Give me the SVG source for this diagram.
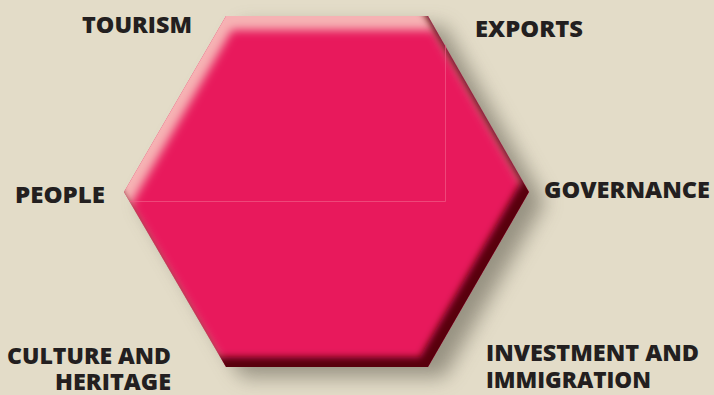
<svg xmlns="http://www.w3.org/2000/svg" width="714" height="395" viewBox="0 0 714 395">
<defs>
<style>
.lbl{font-family:"Open Sans","Liberation Sans",sans-serif;font-weight:800;font-size:22.5px;fill:#231f20}
</style>
<clipPath id="hexClip"><polygon points="226,16 428,16 529,192 428,367 226,367 124,192"/></clipPath>
<filter id="blur6" x="-20%" y="-20%" width="140%" height="140%"><feGaussianBlur stdDeviation="5"/></filter>
<filter id="blur3" x="-20%" y="-20%" width="140%" height="140%"><feGaussianBlur stdDeviation="3.5"/></filter>
<filter id="shadowBlur" x="-20%" y="-20%" width="140%" height="140%"><feGaussianBlur stdDeviation="10"/></filter>
</defs>
<rect width="714" height="395" fill="#e3dcc8"/>
<g id="hexagon">
<polygon points="226,16 428,16 529,192 428,367 226,367 124,192" transform="translate(16,10)" fill="#8a8576" opacity="0.85" filter="url(#shadowBlur)"/>
<polygon points="226,16 428,16 529,192 428,367 226,367 124,192" fill="#e8195c"/>
<g clip-path="url(#hexClip)">
<path fill-rule="evenodd" fill="#f6b2b4" filter="url(#blur6)" transform="translate(6,14)" d="M-100,-100H814V495H-100Z M226,16 L428,16 L529,192 L428,367 L226,367 L124,192Z"/>
<path fill-rule="evenodd" fill="#58000f" filter="url(#blur3)" transform="translate(-8,-10)" d="M-100,-100H814V495H-100Z M226,16 L428,16 L529,192 L428,367 L226,367 L124,192Z"/>
</g>
<path d="M130,201.5 H445.5 V45" fill="none" stroke="#f25a86" stroke-width="1" opacity="0.7"/>
</g>
<g id="labels">
<g id="tourism"><text class="lbl" x="82" y="33" textLength="110" lengthAdjust="spacingAndGlyphs">TOURISM</text></g>
<g id="exports"><text class="lbl" x="475" y="37" textLength="108" lengthAdjust="spacingAndGlyphs">EXPORTS</text></g>
<g id="people"><text class="lbl" x="15" y="203" textLength="90" lengthAdjust="spacingAndGlyphs">PEOPLE</text></g>
<g id="governance"><text class="lbl" x="544" y="198" textLength="166" lengthAdjust="spacingAndGlyphs">GOVERNANCE</text></g>
<g id="culture"><text class="lbl" x="7" y="364" textLength="164" lengthAdjust="spacingAndGlyphs">CULTURE AND</text><text class="lbl" x="55" y="390" textLength="116" lengthAdjust="spacingAndGlyphs">HERITAGE</text></g>
<g id="investment"><text class="lbl" x="486" y="361" textLength="213" lengthAdjust="spacingAndGlyphs">INVESTMENT AND</text><text class="lbl" x="486" y="388" textLength="165" lengthAdjust="spacingAndGlyphs">IMMIGRATION</text></g>
</g>
</svg>
